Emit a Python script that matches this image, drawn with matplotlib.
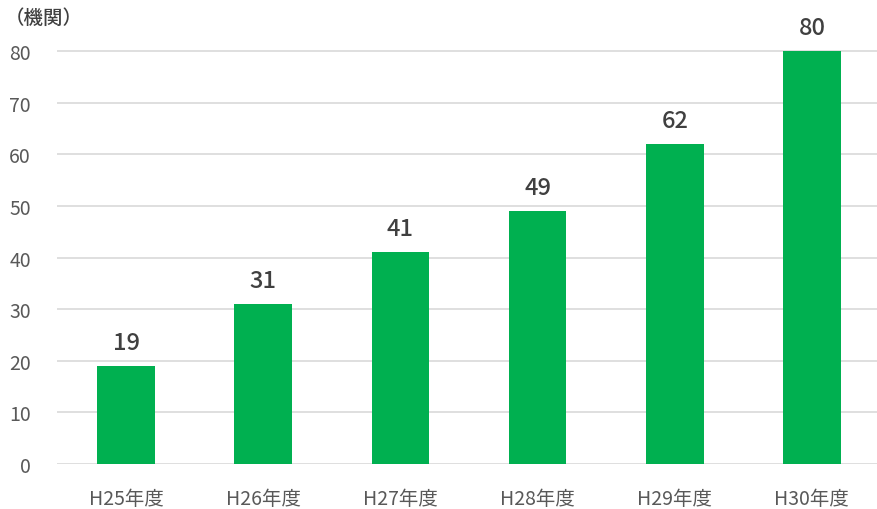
import matplotlib

matplotlib.use("Agg")
import matplotlib.pyplot as plt
import numpy as np

plt.rcParams["font.family"] = ["Noto Sans CJK JP", "DejaVu Sans"]

categories = ["H25年度", "H26年度", "H27年度", "H28年度", "H29年度", "H30年度"]
counts = [19, 31, 41, 49, 62, 80]
unit_label = "（機関）"

_C_BAR = "#00b050"
_C_TICK = "#595959"
_C_LABEL = "#404040"
_C_GRID = "#d9d9d9"

fig = plt.figure(figsize=(8.77, 5.10), dpi=100)
ax = fig.add_axes([0.0655, 0.088, 0.9385, 0.911])

x = np.arange(len(categories))
bars = ax.bar(x, counts, width=0.42, color=_C_BAR, zorder=3)
for b, v in zip(bars, counts):
    ax.annotate(str(v), xy=(b.get_x() + b.get_width() / 2, v), xytext=(0, 9),
                textcoords="offset points", ha="center", va="bottom",
                fontsize=17, fontweight="medium", color=_C_LABEL)

ax.set_xlim(-0.5, len(categories) - 0.5)
ax.set_ylim(0, 90)
ax.set_yticks(np.arange(0, 90, 10))
ax.set_xticks(x)
ax.set_xticklabels(categories)
ax.tick_params(axis="both", length=0, labelsize=14, labelcolor=_C_TICK)
ax.tick_params(axis="x", pad=17)
ax.tick_params(axis="y", pad=19)
ax.grid(axis="y", color=_C_GRID, linewidth=1.2, zorder=0)
for s in ax.spines.values():
    s.set_visible(False)

fig.text(0.005, 0.963, unit_label, fontsize=14, fontweight="medium",
         color=_C_LABEL, ha="left", va="center")

fig.savefig("out.png", dpi=100)
